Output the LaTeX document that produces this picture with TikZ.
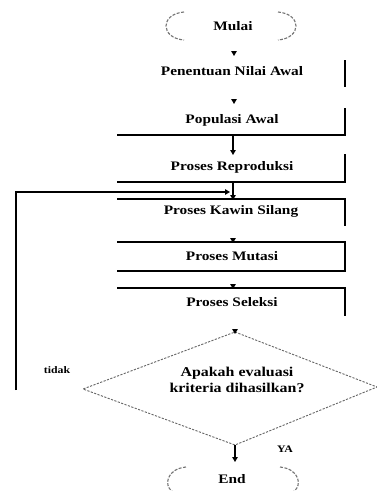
\documentclass[tikz,border=0pt]{standalone}
\usepackage{fontspec}
\setmainfont{Liberation Serif}[FakeStretch=1.18]
\usetikzlibrary{arrows.meta}
\tikzset{
  lbl/.style={inner sep=0pt, font=\fontsize{13}{15}\selectfont\bfseries},
  small/.style={inner sep=0pt, font=\fontsize{10}{12}\selectfont\bfseries},
  boxline/.style={line width=1.3pt, black, line join=miter},
  conn/.style={line width=1.1pt, black, -{Triangle[width=5.5pt,length=5pt]}},
  termline/.style={black!55, line width=1.1pt, dash pattern=on 3pt off 1.5pt},
  dialine/.style={black!60, line width=0.9pt, dash pattern=on 2.2pt off 1.4pt},
}
\begin{document}
\begin{tikzpicture}[x=1pt,y=-1pt]
\useasboundingbox (0,0) rectangle (377,491);
\fill[white] (0,0) rectangle (377,491);

% ---------- texts ----------
\node[lbl] (mulai) at (233,26) {Mulai};
\node[lbl] (pen)   at (232,71) {Penentuan Nilai Awal};
\node[lbl] (pop)   at (232,120) {Populasi Awal};
\node[lbl] (rep)   at (232,167) {Proses Reproduksi};
\node[lbl] (kawin) at (231,211) {Proses Kawin Silang};
\node[lbl] (mut)   at (232,256) {Proses Mutasi};
\node[lbl] (sel)   at (232,302) {Proses Seleksi};
\node[lbl, align=center, font=\fontsize{13.5}{16}\selectfont\bfseries] (dec) at (237,380) {Apakah evaluasi\\kriteria dihasilkan?};
\node[small] (tidak) at (57,370) {tidak};
\node[small] (ya) at (285,449) {YA};
\node[lbl] (end) at (232,479) {End};

% ---------- terminals ----------
\draw[termline] (184,12) .. controls (160,14) and (160,38) .. (184,40);
\draw[termline] (278,12) .. controls (302,14) and (302,38) .. (278,40);
\draw[termline] (186,467) .. controls (166,469) and (164,486) .. (172,491);
\draw[termline] (280,467) .. controls (300,469) and (302,486) .. (294,491);

% ---------- box fragments ----------
\coordinate (penR1) at (345,60);  \coordinate (penR2) at (345,87);
\draw[boxline] (penR1) -- (penR2);
\coordinate (popR1) at (345,108); \coordinate (popBR) at (345,135); \coordinate (popBL) at (117,135);
\draw[boxline] (popR1) -- (popBR) -- (popBL);
\coordinate (repR1) at (345,154); \coordinate (repBR) at (345,182); \coordinate (repBL) at (117,182);
\draw[boxline] (repR1) -- (repBR) -- (repBL);
\coordinate (kawTL) at (117,199); \coordinate (kawTR) at (345,199); \coordinate (kawR2) at (345,226);
\draw[boxline] (kawTL) -- (kawTR) -- (kawR2);
\coordinate (mutTL) at (117,242); \coordinate (mutTR) at (345,242); \coordinate (mutBR) at (345,271); \coordinate (mutBL) at (117,271);
\draw[boxline] (mutTL) -- (mutTR) -- (mutBR) -- (mutBL);
\coordinate (selTL) at (117,288); \coordinate (selTR) at (345,288); \coordinate (selR2) at (345,316);
\draw[boxline] (selTL) -- (selTR) -- (selR2);

% ---------- decision diamond ----------
\coordinate (dT) at (235,332); \coordinate (dL) at (83,389);
\coordinate (dB) at (235,445); \coordinate (dR) at (377,387);
\draw[dialine] (dT) -- (dR) -- (dB) -- (dL) -- cycle;

% ---------- connectors ----------
\coordinate (t1) at (234,56);
\draw[conn] ([yshift=5pt]t1) -- (t1);
\coordinate (t2) at (234,104);
\draw[conn] ([yshift=5pt]t2) -- (t2);
\coordinate (popC) at (233,135); \coordinate (repT) at (233,155);
\draw[conn] (popC) -- (repT);
\coordinate (repC) at (233,182); \coordinate (kawT) at (233,200);
\draw[conn] (repC) -- (kawT);
\coordinate (t3) at (233,243);
\draw[conn] ([yshift=5pt]t3) -- (t3);
\coordinate (t4) at (233,289);
\draw[conn] ([yshift=5pt]t4) -- (t4);
\coordinate (t5) at (235,334);
\draw[conn] ([yshift=5pt]t5) -- (t5);
\coordinate (endT) at (235,462);
\draw[conn] (dB) -- (endT);
\coordinate (loopB) at (16,390); \coordinate (loopT) at (16,192); \coordinate (loopE) at (230,192);
\draw[conn, line join=miter] (loopB) -- (loopT) -- (loopE);
\end{tikzpicture}
\end{document}
